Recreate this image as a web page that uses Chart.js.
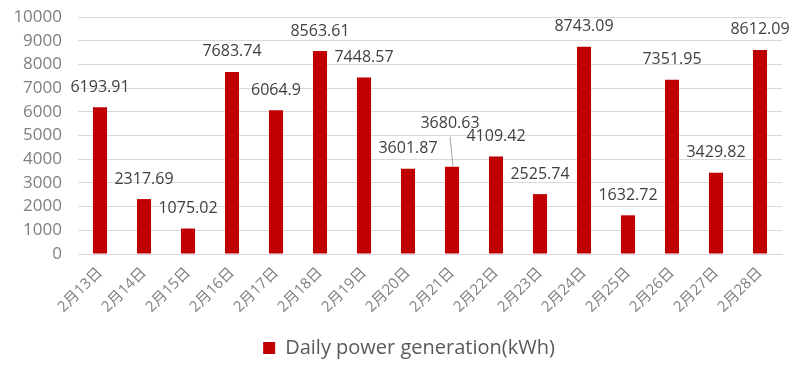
<!DOCTYPE html>
<html>
<head>
<meta charset="utf-8">
<script src="https://cdn.jsdelivr.net/npm/chart.js@4.4.0/dist/chart.umd.min.js"></script>
<style>
html,body{margin:0;padding:0;background:#fff;}
#wrap{width:800px;height:376px;position:relative;}
</style>
</head>
<body>
<div id="wrap"><canvas id="c" width="800" height="376"></canvas></div>
<script>
const categories = ["2月13日","2月14日","2月15日","2月16日","2月17日","2月18日","2月19日","2月20日","2月21日","2月22日","2月23日","2月24日","2月25日","2月26日","2月27日","2月28日"];
const values = [6193.91,2317.69,1075.02,7683.74,6064.9,8563.61,7448.57,3601.87,3680.63,4109.42,2525.74,8743.09,1632.72,7351.95,3429.82,8612.09];
const valueLabels = ["6193.91","2317.69","1075.02","7683.74","6064.9","8563.61","7448.57","3601.87","3680.63","4109.42","2525.74","8743.09","1632.72","7351.95","3429.82","8612.09"];
const seriesName = "Daily power generation(kWh)";
const yMin = 0, yMax = 10000, yStep = 1000;
// label lifted higher with a leader line (index in categories)
const leaderIndex = 8;

const FONT = "'Open Sans','Noto Sans CJK SC',sans-serif";

const labelPlugin = {
  id: 'valueLabels',
  afterLayout(chart) {
    if (chart.legend) { chart.legend.left += 18; chart.legend.right += 18; }
  },
  afterDatasetsDraw(chart) {
    const ctx = chart.ctx;
    const meta = chart.getDatasetMeta(0);
    ctx.save();
    ctx.font = "16px " + FONT;
    ctx.fillStyle = "#404040";
    ctx.textAlign = "center";
    ctx.textBaseline = "middle";
    meta.data.forEach((bar, i) => {
      let ly = bar.y - 20;
      if (i === leaderIndex) {
        ly = bar.y - 43;
        ctx.strokeStyle = "#a6a6a6";
        ctx.lineWidth = 1;
        ctx.beginPath();
        ctx.moveTo(bar.x - 2, ly + 13);
        ctx.lineTo(bar.x + 1, bar.y);
        ctx.stroke();
        ctx.fillText(valueLabels[i], bar.x - 2, ly);
      } else {
        ctx.fillText(valueLabels[i], bar.x, ly);
      }
    });
    ctx.restore();
  }
};

new Chart(document.getElementById('c'), {
  type: 'bar',
  data: {
    labels: categories,
    datasets: [{
      label: seriesName,
      data: values,
      backgroundColor: '#C00000',
      borderWidth: 0,
      barPercentage: 0.32,
      categoryPercentage: 1.0
    }]
  },
  options: {
    responsive: false,
    animation: false,
    devicePixelRatio: 1,
    layout: { padding: { left: 0, right: 18, top: 17, bottom: 8 } },
    plugins: {
      tooltip: { enabled: false },
      legend: {
        position: 'bottom',
        labels: {
          boxWidth: 12, boxHeight: 12, padding: 9,
          color: '#595959',
          font: { family: FONT, size: 20 }
        }
      }
    },
    scales: {
      x: {
        grid: { display: false, drawTicks: false },
        border: { display: true, color: '#d9d9d9', width: 1 },
        ticks: {
          color: '#7f7f7f',
          font: { family: FONT, size: 15 },
          minRotation: 45, maxRotation: 45,
          autoSkip: false,
          padding: 10
        },
        afterFit(scale) { scale.height = 75; }
      },
      y: {
        min: yMin, max: yMax,
        grid: { color: '#d9d9d9', drawTicks: false },
        border: { display: false },
        ticks: {
          stepSize: yStep,
          autoSkip: false,
          color: '#7f7f7f',
          font: { family: FONT, size: 17 },
          padding: 16,
          callback: (v) => String(v)
        },
        afterFit(scale) {
          scale.width = 78;
          scale.paddingTop = 0;
          scale.paddingBottom = 0;
        }
      }
    }
  },
  plugins: [labelPlugin]
});
</script>
</body>
</html>
